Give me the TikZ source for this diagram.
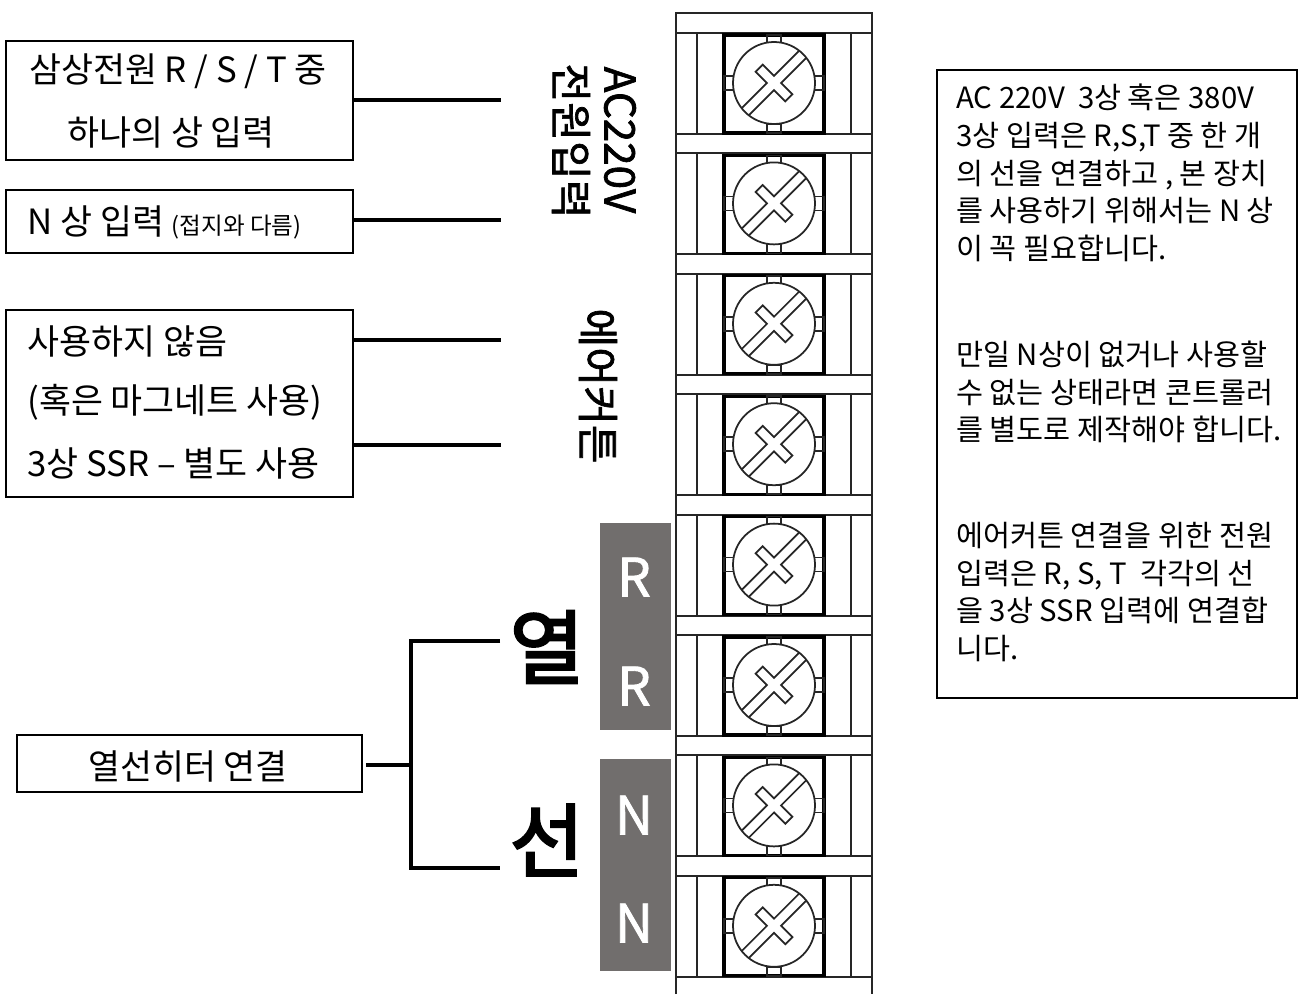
\documentclass[tikz,border=0pt]{standalone}
\usepackage{fontspec}
\setmainfont{Noto Sans CJK KR}
\newfontfamily\heavyfont[FakeBold=1.6]{Noto Sans CJK KR}
\newfontfamily\bigfont[FakeBold=3]{Noto Sans CJK KR}

\definecolor{tagGrey}{HTML}{716E6D}

\tikzset{
    labelBox/.style={draw, line width=1.2pt, inner sep=0pt},
    wireLine/.style={line width=1.9pt},
    boxText/.style={inner sep=0pt, font=\fontsize{19.8}{23}\selectfont},
    noteText/.style={inner sep=0pt, anchor=west, align=left, font=\fontsize{16.7}{21.4}\selectfont},
    sideText/.style={inner sep=0pt, rotate=-90, font=\heavyfont\fontsize{24}{26}\selectfont},
    bigText/.style={inner sep=0pt, font=\bigfont\fontsize{46}{48}\selectfont},
    tagBox/.style={fill=tagGrey, draw=none, inner sep=0pt},
    tagText/.style={inner sep=0pt, text=white, font=\heavyfont\fontsize{30}{32}\selectfont},
    thinLine/.style={line width=1pt, draw=black!85},
    railLine/.style={line width=1.1pt, draw=black!85},
    seatLine/.style={line width=1.8pt}
}

\begin{document}
\begin{tikzpicture}[x=0.02cm, y=-0.02cm]

    \useasboundingbox (0,0) rectangle (1301,994);

    % Outer frame of the terminal block
    \draw[railLine] (676,994) -- (676,13) -- (872,13) -- (872,994);

    % Eight terminals, one screw each
    \foreach \row in {0,...,7} {
        \begin{scope}[shift={(0,120.4*\row)}]
            \draw[railLine] (676,33) -- (872,33);
            \draw[railLine] (676,134) -- (872,134);
            \draw[thinLine] (697,33) -- (697,134);
            \draw[thinLine] (851,33) -- (851,134);
            \draw[seatLine] (724,35) rectangle (824,133);
            % tabs round the screw
            \draw[thinLine] (767,35) rectangle (781,44);
            \draw[thinLine] (767,124) rectangle (781,133);
            \draw[thinLine] (724,76) rectangle (734,90);
            \draw[thinLine] (814,76) rectangle (824,90);
            \draw[thinLine, fill=white] (774,83) circle (41);
            % slot of the screw
            \begin{scope}[shift={(774,83)}, rotate=45]
                \draw[thinLine] (-40.6,-5) -- (-5,-5) -- (-5,-21) -- (5,-21) -- (5,-5) -- (40.6,-5);
                \draw[thinLine] (-40.6,5) -- (-5,5) -- (-5,21) -- (5,21) -- (5,5) -- (40.6,5);
            \end{scope}
        \end{scope}
    }

    % Grey tags beside the heater terminals
    \node[tagBox, minimum width=1.42cm, minimum height=4.14cm] (tagR) at (635.5,626.5) {};
    \node[tagBox, minimum width=1.42cm, minimum height=4.24cm] (tagN) at (635.5,865) {};
    \node[tagText] (tagRa) at (634,577) {R};
    \node[tagText] (tagRb) at (634,686) {R};
    \node[tagText] (tagNa) at (634,815) {N};
    \node[tagText] (tagNb) at (634,923) {N};

    % Turned labels next to the block
    \node[sideText] (acText) at (620,140) {AC220V};
    \node[sideText] (powerText) at (571,141) {전원입력};
    \node[sideText] (curtainText) at (598,386) {에어커튼};
    \node[bigText] (heatText) at (547,647) {열};
    \node[bigText] (wireText) at (547,840) {선};

    % Boxes on the left
    \node[labelBox, minimum width=6.94cm, minimum height=2.38cm] (phaseBox) at (179.5,100.5) {};
    \node[labelBox, minimum width=6.94cm, minimum height=1.26cm] (neutralBox) at (179.5,221.5) {};
    \node[labelBox, minimum width=6.94cm, minimum height=3.74cm] (ssrBox) at (179.5,403.5) {};
    \node[labelBox, minimum width=6.9cm, minimum height=1.14cm] (heaterBox) at (189.5,763.5) {};

    \node[boxText] (phaseA) at (178,71) {삼상전원 R / S / T 중};
    \node[boxText] (phaseB) at (171,132) {하나의 상 입력};
    \node[boxText, anchor=west] (neutralA) at (27,222) {N 상 입력 {\fontsize{13.4}{15}\selectfont (접지와 다름)}};
    \node[boxText, anchor=west] (ssrA) at (27,341) {사용하지 않음};
    \node[boxText, anchor=west] (ssrB) at (27,402) {(혹은 마그네트 사용)};
    \node[boxText, anchor=west] (ssrC) at (27,463) {3상 SSR – 별도 사용};
    \node[boxText] (heaterA) at (188,766) {열선히터 연결};

    % Free ends of the wires
    \coordinate (phaseEnd) at (501,100);
    \coordinate (neutralEnd) at (501,220);
    \coordinate (unusedEnd) at (501,340);
    \coordinate (ssrEnd) at (501,445);
    \coordinate (heatEnd) at (500,641);
    \coordinate (wireEnd) at (500,868);
    \coordinate (forkTop) at (411,641);
    \coordinate (forkBot) at (411,868);

    % Wires
    \draw[wireLine] (phaseBox.east |- phaseEnd) -- (phaseEnd);
    \draw[wireLine] (neutralBox.east |- neutralEnd) -- (neutralEnd);
    \draw[wireLine] (ssrBox.east |- unusedEnd) -- (unusedEnd);
    \draw[wireLine] (ssrBox.east |- ssrEnd) -- (ssrEnd);
    \draw[wireLine] (heatEnd) -- (forkTop) -- (forkBot) -- (wireEnd);
    \draw[wireLine] (heaterBox.east) ++(3,1.5) -- ++(46,0);

    % Note on the right
    \node[labelBox, minimum width=7.2cm, minimum height=12.56cm] (noteBox) at (1117,384) {};
    \node[noteText] (noteA) at (956,173) {AC 220V\ \ 3상 혹은 380V\\3상 입력은 R,S,T 중 한 개\\의 선을 연결하고 , 본 장치\\를 사용하기 위해서는 N 상\\이 꼭 필요합니다.};
    \node[noteText] (noteB) at (956,392) {만일 N상이 없거나 사용할\\수 없는 상태라면 콘트롤러\\를 별도로 제작해야 합니다.};
    \node[noteText] (noteC) at (956,592) {에어커튼 연결을 위한 전원\\입력은 R, S, T\ \ 각각의 선\\을 3상 SSR 입력에 연결합\\니다.};

\end{tikzpicture}
\end{document}
